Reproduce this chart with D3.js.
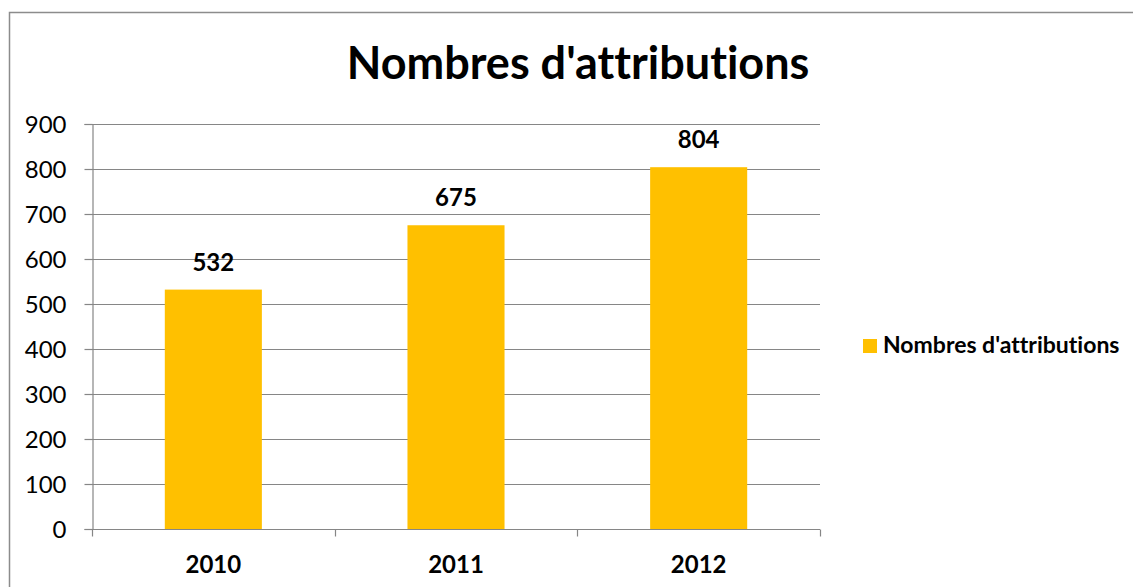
<!DOCTYPE html>
<html lang="fr">
<head>
  <meta charset="UTF-8">
  <title>Nombres d'attributions</title>
  <script src="https://d3js.org/d3.v7.min.js"></script>
  <style>
    html, body { margin: 0; padding: 0; background: #fff; overflow: hidden; }
    svg { display: block; font-family: Lato, "Open Sans", sans-serif; font-variant-ligatures: none; }
  </style>
</head>
<body>
  <script>
    // Données
    const categories = ['2010', '2011', '2012'];
    const values = [532, 675, 804];
    const yTicks = [0, 100, 200, 300, 400, 500, 600, 700, 800, 900];
    const seriesName = "Nombres d'attributions";
    const title = "Nombres d'attributions";

    const width = 1133;
    const height = 587;
    const plot = { left: 92, right: 820, top: 124, bottom: 529 };
    const barColor = '#FFC000';
    const axisColor = '#868686';

    const svg = d3.select('body')
      .append('svg')
      .attr('width', width)
      .attr('height', height);

    // cadre du graphique
    svg.append('rect')
      .attr('x', 9.5)
      .attr('y', 12.5)
      .attr('width', width + 20)
      .attr('height', height + 20)
      .attr('fill', '#fff')
      .attr('stroke', '#8c8c8c')
      .attr('stroke-width', 1.5);

    const x = d3.scaleBand()
      .domain(categories)
      .range([plot.left, plot.right])
      .paddingInner(0.6)
      .paddingOuter(0.3);

    const xBound = d3.scaleBand()
      .domain(categories)
      .range([plot.left, plot.right]);

    const y = d3.scaleLinear()
      .domain([0, 900])
      .range([plot.bottom, plot.top]);

    // Titre
    svg.append('text')
      .attr('x', 578)
      .attr('y', 79)
      .attr('text-anchor', 'middle')
      .style('font-size', '45px')
      .style('font-weight', 700)
      .text(title);

    // Grille
    svg.append('g')
      .selectAll('line')
      .data(yTicks.filter(d => d > 0))
      .join('line')
      .attr('x1', plot.left)
      .attr('x2', plot.right)
      .attr('y1', d => Math.round(y(d)) + 0.5)
      .attr('y2', d => Math.round(y(d)) + 0.5)
      .attr('stroke', axisColor)
      .attr('stroke-width', 1.2);

    // Barres
    svg.append('g')
      .selectAll('rect')
      .data(values)
      .join('rect')
      .attr('x', (d, i) => x(categories[i]))
      .attr('y', d => y(d))
      .attr('width', x.bandwidth())
      .attr('height', d => y(0) - y(d))
      .attr('fill', barColor);

    // Axe Y
    const yAxis = svg.append('g')
      .attr('transform', `translate(${plot.left + 0.5},0)`)
      .call(d3.axisLeft(y).tickValues(yTicks).tickSize(8).tickPadding(18));
    yAxis.select('.domain').attr('stroke', axisColor).attr('stroke-width', 1.2);
    yAxis.selectAll('.tick line').attr('stroke', axisColor).attr('stroke-width', 1.2);
    yAxis.selectAll('.tick text')
      .attr('fill', '#000')
      .attr('dy', '0.36em')
      .style('font-size', '24px')
      .style('font-family', 'Lato, sans-serif');

    // Axe X
    const xAxisG = svg.append('g')
      .attr('transform', `translate(0,${Math.round(plot.bottom) + 0.5})`);
    xAxisG.append('line')
      .attr('x1', plot.left)
      .attr('x2', plot.right)
      .attr('stroke', axisColor)
      .attr('stroke-width', 1.2);
    const bounds = categories.map(c => xBound(c)).concat([plot.right]);
    xAxisG.selectAll('line.tk')
      .data(bounds)
      .join('line')
      .attr('class', 'tk')
      .attr('x1', d => Math.round(d) + 0.5)
      .attr('x2', d => Math.round(d) + 0.5)
      .attr('y1', 0)
      .attr('y2', 7)
      .attr('stroke', axisColor)
      .attr('stroke-width', 1.2);
    xAxisG.selectAll('text')
      .data(categories)
      .join('text')
      .attr('x', d => xBound(d) + xBound.bandwidth() / 2)
      .attr('y', 43)
      .attr('text-anchor', 'middle')
      .style('font-size', '24px')
      .style('font-weight', 700)
      .text(d => d);

    // Étiquettes de valeur
    svg.append('g')
      .selectAll('text')
      .data(values)
      .join('text')
      .attr('x', (d, i) => x(categories[i]) + x.bandwidth() / 2)
      .attr('y', d => y(d) - 19)
      .attr('text-anchor', 'middle')
      .style('font-size', '24px')
      .style('font-weight', 700)
      .text(d => d);

    // Légende
    const legend = svg.append('g').attr('transform', 'translate(863,339)');
    legend.append('rect')
      .attr('width', 14)
      .attr('height', 14)
      .attr('fill', barColor);
    legend.append('text')
      .attr('x', 20)
      .attr('y', 14)
      .style('font-size', '23px')
      .style('font-weight', 700)
      .text(seriesName);
  </script>
</body>
</html>
